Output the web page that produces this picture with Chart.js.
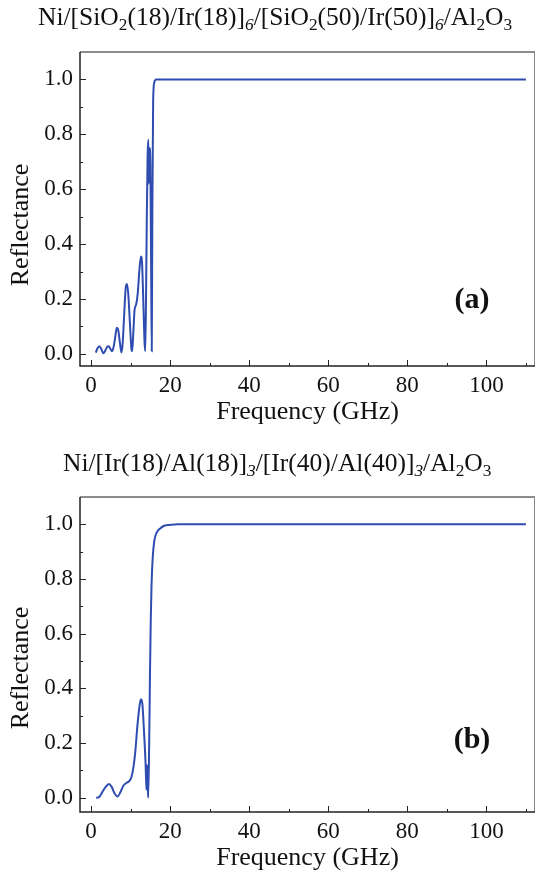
<!DOCTYPE html>
<html><head><meta charset="utf-8">
<script src="https://cdn.jsdelivr.net/npm/chart.js@4.4.1/dist/chart.umd.min.js"></script>
<style>
html,body{margin:0;padding:0;background:#fff;}
canvas{position:absolute;left:0;}
.ttl{position:absolute;font-family:'Liberation Serif';font-size:25.5px;line-height:25px;white-space:nowrap;color:#111;}
.ttl sub{font-size:0.68em;line-height:0;vertical-align:baseline;position:relative;top:0.3em;}
.ttl sub.i{font-style:italic;}
</style></head><body>
<canvas id="ca" width="537" height="437" style="top:0;width:537px;height:437px"></canvas>
<canvas id="cb" width="537" height="436" style="top:437px;width:537px;height:436px"></canvas>
<div class="ttl" id="t1" style="left:38px;top:4px">Ni/[SiO<sub>2</sub>(18)/Ir(18)]<sub class="i">6</sub>/[SiO<sub>2</sub>(50)/Ir(50)]<sub class="i">6</sub>/Al<sub>2</sub>O<sub>3</sub></div>
<div class="ttl" id="t2" style="left:63px;top:450px">Ni/[Ir(18)/Al(18)]<sub class="i">3</sub>/[Ir(40)/Al(40)]<sub class="i">3</sub>/Al<sub>2</sub>O<sub>3</sub></div>
<script>
// ---- data ----
const freqA = [1.2,1.6,2.1,2.6,3.1,3.6,4.1,4.5,4.9,5.3,5.7,6.1,6.5,6.9,7.3,7.7,8.0,8.4,8.8,9.1,9.4,9.8,10.2,10.4,10.7,11.0,11.4,11.8,12.2,12.6,12.9,13.2,13.5,13.7,13.9,14.1,14.3,14.5,14.6,14.8,15.0,15.2,15.35,15.5,15.7,16.0,16.5,110];
const reflA = [0.005,0.02,0.028,0.018,0.002,0.012,0.026,0.028,0.018,0.01,0.025,0.06,0.095,0.085,0.04,0.005,0.04,0.15,0.245,0.255,0.22,0.12,0.02,0.01,0.08,0.16,0.18,0.22,0.30,0.355,0.33,0.2,0.05,0.01,0.2,0.5,0.72,0.78,0.62,0.75,0.7,0.3,0.01,0.5,0.92,0.99,1.0,1.0];
const freqB = [1.3,2.0,3.0,4.0,4.5,5.2,6.0,6.7,7.4,8.2,9.0,9.6,10.2,10.7,11.2,11.7,12.2,12.6,13.0,13.4,13.8,14.0,14.15,14.3,14.45,14.7,14.9,15.1,15.3,15.6,16.0,16.6,17.5,18.5,20,22,110];
const reflB = [0.0,0.002,0.025,0.045,0.05,0.04,0.015,0.005,0.02,0.045,0.055,0.06,0.075,0.11,0.17,0.26,0.33,0.36,0.34,0.24,0.12,0.03,0.12,0.06,0.0,0.2,0.45,0.65,0.78,0.88,0.94,0.97,0.985,0.995,0.998,1.0,1.0];
const xTickVals = [0,20,40,60,80,100];
const xMinorVals = [10,30,50,70,90,110];
const yTickVals = [0,0.2,0.4,0.6,0.8,1.0];
const yMinorVals = [0.1,0.3,0.5,0.7,0.9];

const FONT = "'Liberation Serif'";
const LINE = '#2f4db0';

function deco(cfg){
  return { id:'deco', afterDraw(chart){
    const ctx = chart.ctx, a = chart.chartArea, x = chart.scales.x, y = chart.scales.y;
    ctx.save();
    ctx.strokeStyle = '#222'; ctx.lineWidth = 1;
    ctx.beginPath();
    xTickVals.forEach(v=>{const p=Math.round(x.getPixelForValue(v))+0.5; ctx.moveTo(p,a.bottom); ctx.lineTo(p,a.bottom-6);});
    xMinorVals.forEach(v=>{const p=Math.round(x.getPixelForValue(v))+0.5; ctx.moveTo(p,a.bottom); ctx.lineTo(p,a.bottom-3);});
    yTickVals.forEach(v=>{const p=Math.round(y.getPixelForValue(v))+0.5; ctx.moveTo(a.left,p); ctx.lineTo(a.left+6,p);});
    yMinorVals.forEach(v=>{const p=Math.round(y.getPixelForValue(v))+0.5; ctx.moveTo(a.left,p); ctx.lineTo(a.left+3,p);});
    ctx.stroke();
    ctx.strokeStyle = '#666'; ctx.lineWidth = 1.5;
    ctx.beginPath(); ctx.moveTo(a.left, a.top); ctx.lineTo(a.right, a.top); ctx.stroke();
    ctx.strokeStyle = '#888'; ctx.lineWidth = 1;
    ctx.beginPath(); ctx.moveTo(a.right-0.5, a.top); ctx.lineTo(a.right-0.5, a.bottom); ctx.stroke();
    ctx.strokeStyle = '#222'; ctx.lineWidth = 1.5;
    ctx.beginPath(); ctx.moveTo(a.left, a.top); ctx.lineTo(a.left, a.bottom); ctx.lineTo(a.right, a.bottom); ctx.stroke();
    ctx.fillStyle = '#111';
    ctx.font = '26px ' + FONT; ctx.textAlign = 'center'; ctx.textBaseline = 'alphabetic';
    ctx.fillText('Frequency (GHz)', (a.left+a.right)/2, cfg.xTitleY);
    ctx.save(); ctx.translate(28, cfg.yTitleY); ctx.rotate(-Math.PI/2); ctx.fillText('Reflectance', 0, 0); ctx.restore();
    ctx.font = 'bold 30px ' + FONT; ctx.textBaseline = 'middle';
    ctx.fillText(cfg.label, cfg.lx, cfg.ly);
    ctx.restore();
  }};
}

function makeChart(id, fx, ry, cfg){
  const pts = fx.map((f,i)=>({x:f, y:ry[i]}));
  return new Chart(document.getElementById(id), {
    type:'line',
    data:{datasets:[{data:pts, borderColor:LINE, borderWidth:2, pointRadius:0, fill:false, cubicInterpolationMode:'monotone'}]},
    options:{
      responsive:false, animation:false, devicePixelRatio:1,
      layout:{padding:{left:0, top:cfg.padTop, right:2, bottom:0}},
      plugins:{legend:{display:false}, tooltip:{enabled:false}},
      scales:{
        x:{type:'linear', min:-2.8, max:112.3,
           grid:{display:false, drawTicks:false}, border:{display:false},
           afterBuildTicks:(s)=>{s.ticks = xTickVals.map(v=>({value:v}));},
           afterFit:(s)=>{s.height = cfg.xH;},
           ticks:{font:{family:FONT, size:23}, color:'#111', padding:6, maxRotation:0, callback:(v)=>String(v)}},
        y:{type:'linear', min:cfg.ymin, max:1.1,
           grid:{display:false, drawTicks:false}, border:{display:false},
           afterBuildTicks:(s)=>{s.ticks = yTickVals.map(v=>({value:v}));},
           afterFit:(s)=>{s.width = 80;},
           ticks:{font:{family:FONT, size:23}, color:'#111', padding:7, callback:(v)=>Number(v).toFixed(1)}}
      }
    },
    plugins:[deco(cfg)]
  });
}

makeChart('ca', freqA, reflA, {padTop:52, xH:437-366, ymin:-0.044, xTitleY:419, yTitleY:225, label:'(a)', lx:472, ly:300});
makeChart('cb', freqB, reflB, {padTop:60, xH:436-375, ymin:-0.052, xTitleY:428, yTitleY:231, label:'(b)', lx:472, ly:303});
</script>
</body></html>
